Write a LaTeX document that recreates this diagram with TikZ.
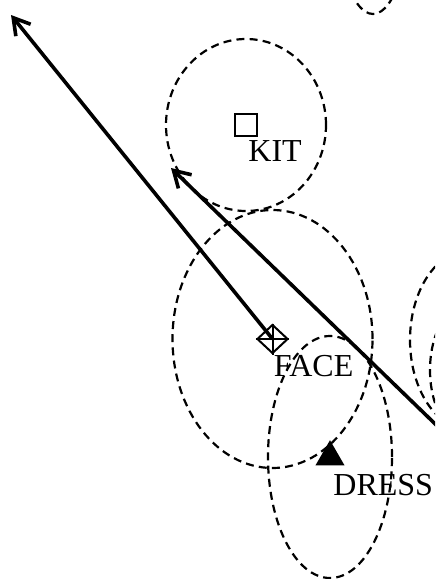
\documentclass[tikz,border=0pt]{standalone}
\usepackage{fontspec}
\setmainfont{Liberation Serif}
\usetikzlibrary{arrows.meta,calc,shapes.geometric}

\begin{document}
\begin{tikzpicture}[x=0.5pt,y=-0.5pt,font=\fontsize{16}{18}\selectfont,
  ring/.style={dash pattern=on 4pt off 2.6pt,line width=1.1pt},
  vec/.style={line width=1.8pt,-{Straight Barb[length=8pt,width=9.5pt,line width=1.8pt]}},
  marker/.style={draw,line width=1pt,inner sep=0pt},
  lbl/.style={anchor=base west,inner sep=0pt}]
\useasboundingbox (0,0) rectangle (435,579);
\clip (0,0) rectangle (435,579);
% markers
\node[marker,minimum size=11pt] (kit) at (246,125) {};
\node[marker,diamond,minimum width=15.5pt,minimum height=14.5pt] (face) at (272.5,339) {};
\draw[line width=1pt] (face.north) -- (face.south) (face.west) -- (face.east);
\node[fill,regular polygon,regular polygon sides=3,minimum size=16.8pt,inner sep=0pt] (dress) at (330,457) {};
% dashed regions
\draw[ring] (kit.center) ellipse [x radius=40pt,y radius=43pt];
\draw[ring] (face.center) ellipse [x radius=50pt,y radius=64.5pt];
\draw[ring] (dress.center) ellipse [x radius=31pt,y radius=60.5pt];
\draw[ring] (470,340) ellipse [x radius=30pt,y radius=45pt];
\draw[ring] (470,370) ellipse [x radius=20pt,y radius=34pt];
\draw[ring] (373,-116) ellipse [x radius=20pt,y radius=65pt];
% directions
\coordinate (tipa) at (11,15);
\coordinate (tipb) at (171,168);
\coordinate (tailb) at (460,448);
\draw[vec] (face.center) -- (tipa);
\draw[vec] (tailb) -- (tipb);
% labels
\node[lbl] (kittxt) at ($(kit)+(2,36)$) {KIT};
\node[lbl] (facetxt) at ($(face)+(1,37)$) {FACE};
\node[lbl] (dresstxt) at ($(dress)+(3,38)$) {DRESS};
\end{tikzpicture}
\end{document}
